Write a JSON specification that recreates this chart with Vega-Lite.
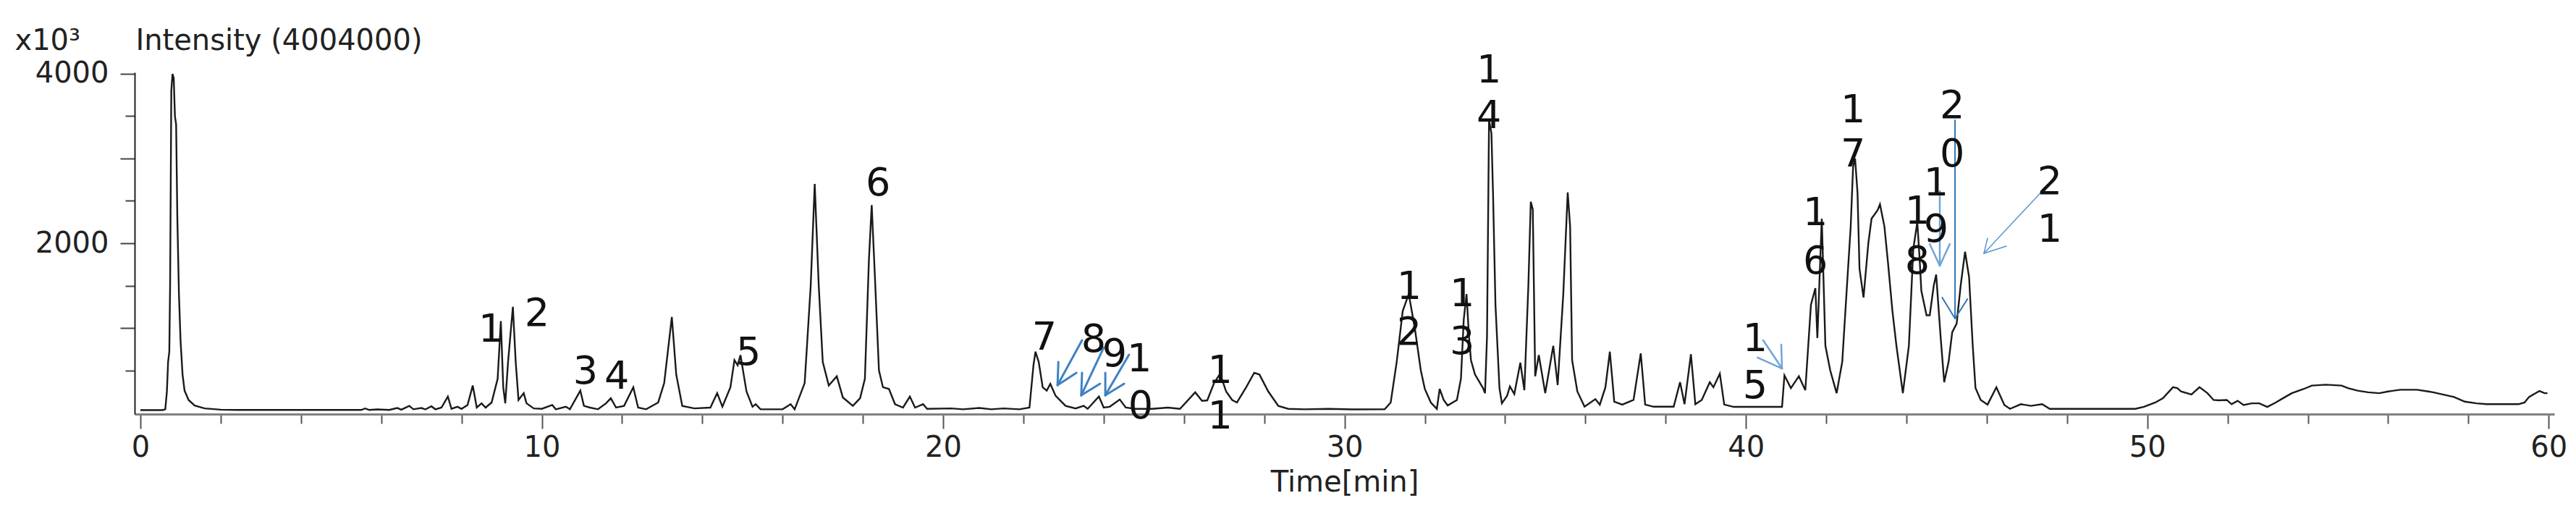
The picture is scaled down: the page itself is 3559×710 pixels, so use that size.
{
  "$schema": "https://vega.github.io/schema/vega-lite/v6.json",
  "autosize": {"type": "none"},
  "padding": {"left": 186, "top": 100, "right": 30, "bottom": 138},
  "width": 3343,
  "height": 472,
  "background": "white",
  "config": {"view": {"stroke": null}},
  "datasets": {
    "trace": [
      {"t":0.0,"v":30},{"t":0.55,"v":30},{"t":0.62,"v":40},{"t":0.66,"v":250},{"t":0.69,"v":600},{"t":0.72,"v":720},{"t":0.74,"v":1500},{"t":0.77,"v":3800},{"t":0.8,"v":4000},{"t":0.83,"v":3950},{"t":0.86,"v":3500},{"t":0.89,"v":3400},{"t":0.92,"v":2300},{"t":0.96,"v":1400},{"t":1.0,"v":850},{"t":1.05,"v":450},{"t":1.1,"v":260},{"t":1.2,"v":150},{"t":1.35,"v":85},{"t":1.6,"v":50},{"t":2.0,"v":35},{"t":2.4,"v":32},{"t":5.5,"v":32},{"t":5.6,"v":50},{"t":5.7,"v":32},{"t":5.9,"v":38},{"t":6.2,"v":32},{"t":6.4,"v":55},{"t":6.5,"v":35},{"t":6.7,"v":80},{"t":6.8,"v":40},{"t":7.0,"v":55},{"t":7.1,"v":38},{"t":7.25,"v":75},{"t":7.35,"v":40},{"t":7.5,"v":60},{"t":7.66,"v":190},{"t":7.75,"v":45},{"t":7.9,"v":70},{"t":8.0,"v":45},{"t":8.15,"v":90},{"t":8.28,"v":320},{"t":8.38,"v":60},{"t":8.5,"v":110},{"t":8.6,"v":60},{"t":8.75,"v":120},{"t":8.9,"v":400},{"t":8.98,"v":1080},{"t":9.04,"v":300},{"t":9.09,"v":110},{"t":9.16,"v":600},{"t":9.28,"v":1250},{"t":9.35,"v":600},{"t":9.42,"v":150},{"t":9.55,"v":230},{"t":9.62,"v":110},{"t":9.8,"v":50},{"t":10.0,"v":45},{"t":10.26,"v":90},{"t":10.35,"v":40},{"t":10.6,"v":70},{"t":10.7,"v":40},{"t":10.96,"v":260},{"t":11.05,"v":80},{"t":11.2,"v":60},{"t":11.4,"v":40},{"t":11.6,"v":110},{"t":11.72,"v":170},{"t":11.85,"v":60},{"t":12.05,"v":80},{"t":12.28,"v":300},{"t":12.4,"v":60},{"t":12.6,"v":40},{"t":12.9,"v":120},{"t":13.05,"v":350},{"t":13.24,"v":1130},{"t":13.35,"v":450},{"t":13.5,"v":80},{"t":13.8,"v":50},{"t":14.2,"v":60},{"t":14.37,"v":230},{"t":14.5,"v":70},{"t":14.7,"v":300},{"t":14.8,"v":620},{"t":14.88,"v":560},{"t":14.95,"v":680},{"t":15.1,"v":250},{"t":15.25,"v":70},{"t":15.33,"v":100},{"t":15.45,"v":40},{"t":16.0,"v":40},{"t":16.2,"v":100},{"t":16.3,"v":40},{"t":16.55,"v":350},{"t":16.7,"v":1500},{"t":16.8,"v":2700},{"t":16.9,"v":1500},{"t":17.0,"v":600},{"t":17.15,"v":320},{"t":17.35,"v":430},{"t":17.5,"v":180},{"t":17.75,"v":80},{"t":17.93,"v":170},{"t":18.05,"v":400},{"t":18.15,"v":1800},{"t":18.22,"v":2450},{"t":18.3,"v":1600},{"t":18.4,"v":500},{"t":18.5,"v":300},{"t":18.65,"v":280},{"t":18.8,"v":100},{"t":19.0,"v":60},{"t":19.17,"v":190},{"t":19.3,"v":60},{"t":19.5,"v":100},{"t":19.6,"v":45},{"t":20.2,"v":50},{"t":20.5,"v":40},{"t":20.9,"v":55},{"t":21.2,"v":40},{"t":21.5,"v":50},{"t":21.9,"v":40},{"t":22.15,"v":60},{"t":22.25,"v":560},{"t":22.3,"v":720},{"t":22.38,"v":600},{"t":22.48,"v":300},{"t":22.58,"v":260},{"t":22.67,"v":340},{"t":22.8,"v":200},{"t":23.05,"v":80},{"t":23.3,"v":50},{"t":23.5,"v":80},{"t":23.6,"v":45},{"t":23.88,"v":190},{"t":24.0,"v":60},{"t":24.15,"v":70},{"t":24.4,"v":155},{"t":24.55,"v":60},{"t":24.8,"v":45},{"t":25.2,"v":45},{"t":25.6,"v":60},{"t":25.9,"v":45},{"t":26.28,"v":240},{"t":26.45,"v":140},{"t":26.58,"v":145},{"t":26.75,"v":350},{"t":26.9,"v":460},{"t":27.05,"v":250},{"t":27.2,"v":150},{"t":27.32,"v":120},{"t":27.55,"v":300},{"t":27.75,"v":470},{"t":27.88,"v":450},{"t":28.1,"v":250},{"t":28.35,"v":80},{"t":28.6,"v":45},{"t":29.0,"v":40},{"t":29.6,"v":45},{"t":30.2,"v":38},{"t":31.0,"v":40},{"t":31.15,"v":120},{"t":31.3,"v":600},{"t":31.45,"v":1200},{"t":31.6,"v":1400},{"t":31.75,"v":1000},{"t":31.9,"v":500},{"t":32.0,"v":280},{"t":32.15,"v":120},{"t":32.3,"v":45},{"t":32.37,"v":280},{"t":32.47,"v":150},{"t":32.57,"v":85},{"t":32.8,"v":150},{"t":32.9,"v":400},{"t":32.97,"v":1100},{"t":33.04,"v":1400},{"t":33.1,"v":900},{"t":33.15,"v":620},{"t":33.25,"v":450},{"t":33.35,"v":370},{"t":33.45,"v":290},{"t":33.5,"v":230},{"t":33.55,"v":900},{"t":33.6,"v":3450},{"t":33.66,"v":3300},{"t":33.7,"v":2580},{"t":33.76,"v":1275},{"t":33.86,"v":290},{"t":33.92,"v":110},{"t":34.05,"v":200},{"t":34.12,"v":310},{"t":34.23,"v":220},{"t":34.38,"v":590},{"t":34.48,"v":265},{"t":34.58,"v":1500},{"t":34.64,"v":2490},{"t":34.69,"v":2400},{"t":34.75,"v":430},{"t":34.84,"v":680},{"t":35.0,"v":230},{"t":35.2,"v":790},{"t":35.31,"v":325},{"t":35.45,"v":1400},{"t":35.56,"v":2600},{"t":35.62,"v":2200},{"t":35.67,"v":620},{"t":35.8,"v":250},{"t":35.98,"v":70},{"t":36.25,"v":160},{"t":36.36,"v":95},{"t":36.5,"v":300},{"t":36.61,"v":720},{"t":36.72,"v":130},{"t":36.92,"v":95},{"t":37.2,"v":150},{"t":37.38,"v":700},{"t":37.49,"v":95},{"t":37.7,"v":70},{"t":38.2,"v":70},{"t":38.36,"v":360},{"t":38.47,"v":100},{"t":38.63,"v":690},{"t":38.74,"v":100},{"t":38.9,"v":150},{"t":39.1,"v":360},{"t":39.19,"v":300},{"t":39.35,"v":460},{"t":39.46,"v":95},{"t":39.7,"v":68},{"t":40.9,"v":68},{"t":40.96,"v":440},{"t":41.12,"v":290},{"t":41.32,"v":430},{"t":41.48,"v":265},{"t":41.62,"v":1275},{"t":41.73,"v":1470},{"t":41.78,"v":880},{"t":41.89,"v":2290},{"t":41.98,"v":790},{"t":42.1,"v":500},{"t":42.26,"v":230},{"t":42.4,"v":600},{"t":42.51,"v":1440},{"t":42.61,"v":2190},{"t":42.67,"v":2900},{"t":42.72,"v":3000},{"t":42.78,"v":2600},{"t":42.83,"v":1700},{"t":42.93,"v":1360},{"t":43.05,"v":2000},{"t":43.13,"v":2290},{"t":43.28,"v":2390},{"t":43.34,"v":2460},{"t":43.45,"v":2200},{"t":43.54,"v":1770},{"t":43.65,"v":1200},{"t":43.75,"v":790},{"t":43.91,"v":230},{"t":44.06,"v":790},{"t":44.17,"v":1930},{"t":44.27,"v":2250},{"t":44.33,"v":1800},{"t":44.37,"v":1440},{"t":44.5,"v":1150},{"t":44.58,"v":1150},{"t":44.68,"v":1500},{"t":44.74,"v":1630},{"t":44.85,"v":900},{"t":44.94,"v":360},{"t":45.05,"v":600},{"t":45.14,"v":950},{"t":45.25,"v":1050},{"t":45.35,"v":1500},{"t":45.46,"v":1900},{"t":45.56,"v":1600},{"t":45.65,"v":800},{"t":45.72,"v":290},{"t":45.85,"v":150},{"t":46.02,"v":95},{"t":46.24,"v":300},{"t":46.44,"v":90},{"t":46.58,"v":45},{"t":46.85,"v":100},{"t":47.1,"v":80},{"t":47.38,"v":100},{"t":47.57,"v":45},{"t":49.7,"v":45},{"t":49.92,"v":70},{"t":50.2,"v":120},{"t":50.39,"v":170},{"t":50.64,"v":300},{"t":50.75,"v":290},{"t":50.84,"v":250},{"t":51.1,"v":215},{"t":51.3,"v":300},{"t":51.5,"v":230},{"t":51.65,"v":150},{"t":51.78,"v":145},{"t":51.98,"v":150},{"t":52.1,"v":100},{"t":52.25,"v":140},{"t":52.4,"v":90},{"t":52.6,"v":110},{"t":52.79,"v":110},{"t":52.99,"v":68},{"t":53.2,"v":120},{"t":53.38,"v":170},{"t":53.6,"v":230},{"t":53.9,"v":280},{"t":54.1,"v":320},{"t":54.45,"v":330},{"t":54.84,"v":320},{"t":55.0,"v":290},{"t":55.24,"v":260},{"t":55.5,"v":240},{"t":55.78,"v":230},{"t":56.0,"v":250},{"t":56.3,"v":270},{"t":56.72,"v":270},{"t":57.0,"v":250},{"t":57.12,"v":240},{"t":57.4,"v":210},{"t":57.64,"v":185},{"t":57.91,"v":130},{"t":58.2,"v":110},{"t":58.45,"v":100},{"t":59.25,"v":100},{"t":59.4,"v":120},{"t":59.51,"v":185},{"t":59.77,"v":256},{"t":59.9,"v":230},{"t":59.97,"v":230}
    ],
    "labels": [
      {"peak":1,"digit":"1","t":8.73,"v":974},
      {"peak":2,"digit":"2","t":9.88,"v":1162},
      {"peak":3,"digit":"3","t":11.09,"v":479},
      {"peak":4,"digit":"4","t":11.87,"v":419},
      {"peak":5,"digit":"5","t":15.15,"v":701},
      {"peak":6,"digit":"6","t":18.38,"v":2701},
      {"peak":7,"digit":"7","t":22.52,"v":880},
      {"peak":8,"digit":"8","t":23.75,"v":855},
      {"peak":9,"digit":"9","t":24.27,"v":684},
      {"peak":10,"digit":"1","t":24.89,"v":624},
      {"peak":10,"digit":"0","t":24.92,"v":68},
      {"peak":11,"digit":"1","t":26.9,"v":487},
      {"peak":11,"digit":"1","t":26.9,"v":-51},
      {"peak":12,"digit":"1","t":31.61,"v":1479},
      {"peak":12,"digit":"2","t":31.61,"v":940},
      {"peak":13,"digit":"1","t":32.93,"v":1393},
      {"peak":13,"digit":"3","t":32.93,"v":829},
      {"peak":14,"digit":"1","t":33.6,"v":4034},
      {"peak":14,"digit":"4","t":33.6,"v":3496},
      {"peak":15,"digit":"1","t":40.23,"v":863},
      {"peak":15,"digit":"5","t":40.23,"v":308},
      {"peak":16,"digit":"1","t":41.73,"v":2350},
      {"peak":16,"digit":"6","t":41.73,"v":1778},
      {"peak":17,"digit":"1","t":42.67,"v":3564},
      {"peak":17,"digit":"7","t":42.67,"v":3043},
      {"peak":18,"digit":"1","t":44.27,"v":2368},
      {"peak":18,"digit":"8","t":44.27,"v":1778},
      {"peak":19,"digit":"1","t":44.74,"v":2701},
      {"peak":19,"digit":"9","t":44.74,"v":2154},
      {"peak":20,"digit":"2","t":45.14,"v":3615},
      {"peak":20,"digit":"0","t":45.14,"v":3043},
      {"peak":21,"digit":"2","t":47.57,"v":2718},
      {"peak":21,"digit":"1","t":47.57,"v":2154}
    ],
    "arrows": [
      {"peak":8,"kind":"zig","t":23.46,"v":855,"t2":22.85,"v2":325},
      {"peak":8,"kind":"zig","t":22.85,"v":325,"t2":22.87,"v2":598},
      {"peak":8,"kind":"zig","t":22.85,"v":325,"t2":23.32,"v2":470},
      {"peak":9,"kind":"zig","t":24.0,"v":769,"t2":23.44,"v2":205},
      {"peak":9,"kind":"zig","t":23.44,"v":205,"t2":23.46,"v2":470},
      {"peak":9,"kind":"zig","t":23.44,"v":205,"t2":23.91,"v2":342},
      {"peak":10,"kind":"zig","t":24.63,"v":684,"t2":24.04,"v2":205},
      {"peak":10,"kind":"zig","t":24.04,"v":205,"t2":24.04,"v2":470},
      {"peak":10,"kind":"zig","t":24.04,"v":205,"t2":24.51,"v2":342},
      {"peak":15,"kind":"thin","t":40.43,"v":855,"t2":40.9,"v2":521},
      {"peak":15,"kind":"thin","t":40.9,"v":521,"t2":40.88,"v2":803},
      {"peak":15,"kind":"thin","t":40.9,"v":521,"t2":40.29,"v2":650},
      {"peak":19,"kind":"thin","t":44.83,"v":2615,"t2":44.83,"v2":1735},
      {"peak":19,"kind":"thin","t":44.83,"v":1735,"t2":44.58,"v2":1991},
      {"peak":19,"kind":"thin","t":44.83,"v":1735,"t2":45.08,"v2":1991},
      {"peak":20,"kind":"thick","t":45.21,"v":3453,"t2":45.21,"v2":1111},
      {"peak":20,"kind":"thick","t":45.21,"v":1111,"t2":44.89,"v2":1359},
      {"peak":20,"kind":"thick","t":45.21,"v":1111,"t2":45.52,"v2":1342},
      {"peak":21,"kind":"mid","t":47.38,"v":2615,"t2":45.93,"v2":1880},
      {"peak":21,"kind":"mid","t":45.93,"v":1880,"t2":46.49,"v2":1966},
      {"peak":21,"kind":"mid","t":45.93,"v":1880,"t2":46.02,"v2":2060}
    ]
  },
  "encoding": {
    "x": {"field": "t", "type": "quantitative", "scale": {"domain": [-0.144, 60.14], "nice": false, "zero": false},
      "axis": {
        "values": [0,2,4,6,8,10,12,14,16,18,20,22,24,26,28,30,32,34,36,38,40,42,44,46,48,50,52,54,56,58,60],
        "labelExpr": "datum.value % 10 === 0 ? datum.label : ''",
        "tickSize": {"condition": {"test": "datum.value % 10 === 0", "value": 20}, "value": 13},
        "tickColor": "#555555", "tickWidth": 2,
        "domainColor": "#808080", "domainWidth": 3,
        "grid": false, "labelFlush": false, "labelOverlap": false,
        "labelFont": "DejaVu Sans", "labelFontSize": 40, "labelColor": "#222222", "labelPadding": 6,
        "title": "Time[min]", "titleFont": "DejaVu Sans", "titleFontSize": 40, "titleFontWeight": "normal", "titleColor": "#222222",
        "titleBaseline": "alphabetic", "titleY": 106, "titleAnchor": "middle"
      }},
    "y": {"field": "v", "type": "quantitative", "scale": {"domain": [-17, 4017], "nice": false, "zero": false},
      "axis": {
        "values": [500,1000,1500,2000,2500,3000,3500,4000],
        "format": "d",
        "labelExpr": "datum.value === 2000 || datum.value === 4000 ? datum.label : ''",
        "tickSize": {"condition": {"test": "datum.value % 1000 === 0", "value": 20}, "value": 13},
        "tickColor": "#444444", "tickWidth": 2,
        "domainColor": "#222222", "domainWidth": 2,
        "grid": false, "labelOverlap": false, "labelFlush": false,
        "labelFont": "DejaVu Sans", "labelFontSize": 40, "labelColor": "#222222", "labelPadding": 16,
        "title": "x10³\u00a0\u00a0\u00a0\u00a0\u00a0\u00a0Intensity (4004000)", "titleAngle": 0, "titleAlign": "left", "titleBaseline": "alphabetic", "titleX": -166, "titleY": -32,
        "titleFont": "DejaVu Sans", "titleFontSize": 40, "titleFontWeight": "normal", "titleColor": "#222222"
      }}
  },
  "layer": [
    {
      "data": {"name": "trace"},
      "mark": {"type": "line", "color": "#1a1a1a", "strokeWidth": 2.4, "interpolate": "linear"}
    },
    {
      "data": {"name": "arrows"},
      "mark": {"type": "rule", "strokeCap": "round"},
      "encoding": {
        "x2": {"field": "t2"},
        "y2": {"field": "v2"},
        "color": {"field": "kind", "type": "nominal", "legend": null, "scale": {"domain": ["zig", "thin", "thick", "mid"], "range": ["#3f82c4", "#6fa5d8", "#2f76b8", "#5b96cf"]}},
        "strokeWidth": {"field": "kind", "type": "nominal", "legend": null, "scale": {"domain": ["zig", "thin", "thick", "mid"], "range": [3, 1.5, 4, 2]}}
      }
    },
    {
      "data": {"name": "labels"},
      "mark": {"type": "text", "font": "DejaVu Sans", "fontSize": 54, "color": "#111111", "align": "center", "baseline": "middle"},
      "encoding": {
        "text": {"field": "digit"}
      }
    }
  ]
}
